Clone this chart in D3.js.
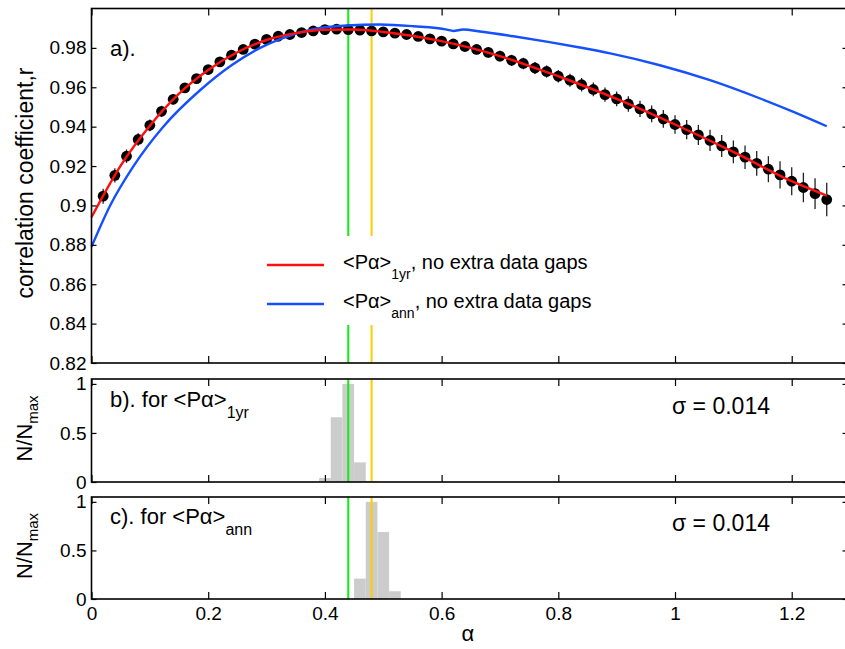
<!DOCTYPE html>
<html><head><meta charset="utf-8">
<script src="https://cdn.jsdelivr.net/npm/d3@7"></script>
<style>body{margin:0;background:#fff}svg{display:block}text{font-family:"Liberation Sans",Arial,sans-serif;fill:#000}</style>
</head><body><svg id="c" width="845" height="649"></svg>
<script>
// ---------- data ----------
const alphaPts = [0.02,0.04,0.06,0.08,0.10,0.12,0.14,0.16,0.18,0.20,0.22,0.24,0.26,0.28,0.30,0.32,0.34,0.36,0.38,0.40,0.42,0.44,0.46,0.48,0.50,0.52,0.54,0.56,0.58,0.60,0.62,0.64,0.66,0.68,0.70,0.72,0.74,0.76,0.78,0.80,0.82,0.84,0.86,0.88,0.90,0.92,0.94,0.96,0.98,1.00,1.02,1.04,1.06,1.08,1.10,1.12,1.14,1.16,1.18,1.20,1.22,1.24,1.26];
const rPts = [0.9047,0.9153,0.9250,0.9335,0.9407,0.9478,0.9539,0.9597,0.9644,0.9690,0.9729,0.9763,0.9792,0.9819,0.9843,0.9859,0.9868,0.9878,0.9886,0.9893,0.9895,0.9893,0.9890,0.9886,0.9881,0.9875,0.9868,0.9858,0.9846,0.9834,0.9820,0.9807,0.9792,0.9777,0.9758,0.9737,0.9721,0.9698,0.9680,0.9656,0.9636,0.9613,0.9589,0.9563,0.9541,0.9515,0.9490,0.9465,0.9439,0.9411,0.9385,0.9358,0.9330,0.9302,0.9272,0.9245,0.9214,0.9184,0.9155,0.9123,0.9091,0.9060,0.9030];
const rErr = [0.0038,0.0036,0.0034,0.0032,0.0030,0.0028,0.0027,0.0025,0.0024,0.0023,0.0022,0.0021,0.0020,0.0019,0.0019,0.0018,0.0018,0.0018,0.0018,0.0018,0.0018,0.0018,0.0019,0.0019,0.0020,0.0020,0.0021,0.0021,0.0022,0.0023,0.0023,0.0024,0.0025,0.0026,0.0027,0.0028,0.0029,0.0030,0.0031,0.0032,0.0033,0.0034,0.0035,0.0036,0.0037,0.0039,0.0041,0.0043,0.0045,0.0047,0.0049,0.0051,0.0054,0.0056,0.0058,0.0060,0.0063,0.0066,0.0069,0.0071,0.0075,0.0078,0.0085];

const fitAlpha = [0,0.05,0.10,0.15,0.20,0.25,0.30,0.35,0.40,0.45,0.50,0.60,0.70,0.80,0.90,1.00,1.10,1.20,1.26];
const fit1yr   = [0.8940,0.9202,0.9405,0.9568,0.9688,0.9778,0.9840,0.9875,0.9892,0.9893,0.9881,0.9834,0.9758,0.9656,0.9541,0.9411,0.9272,0.9123,0.9050];

const annAlpha = [0,0.032,0.072,0.123,0.186,0.24,0.289,0.323,0.38,0.437,0.494,0.552,0.609,0.62,0.637,0.666,0.723,0.78,0.837,0.889,0.974,1.06,1.146,1.203,1.26];
const annR     = [0.879,0.900,0.920,0.940,0.9585,0.9712,0.9800,0.9845,0.9895,0.9914,0.9919,0.9910,0.9893,0.9886,0.9893,0.9883,0.9859,0.9832,0.9802,0.9772,0.9712,0.9636,0.9543,0.9475,0.9402];

const alpha1yrBest = 0.44, alphaAnnBest = 0.48;
const binWidth = 0.02;
const hist1yrCenters = [0.40,0.42,0.44,0.46,0.48];
const hist1yrValues  = [0.04,0.66,1.00,0.20,0.01];
const histAnnCenters = [0.46,0.48,0.50,0.52];
const histAnnValues  = [0.21,1.00,0.69,0.08];

const xTicks = [0,0.2,0.4,0.6,0.8,1,1.2];
const rTicks = [0.82,0.84,0.86,0.88,0.90,0.92,0.94,0.96,0.98];
const nTicks = [0,0.5,1];
const sigmaText = "σ = 0.014";

// ---------- drawing ----------
const svg = d3.select("#c");
const x = d3.scaleLinear().domain([0, 1.2956]).range([91.5, 847.5]);
const yA = d3.scaleLinear().domain([0.82, 1.0]).range([363, 8.5]);
const yB = d3.scaleLinear().domain([0, 1.05]).range([482, 379]);
const yC = d3.scaleLinear().domain([0, 1.05]).range([599, 497]);
const fmt = d => String(+d.toFixed(2));
const GREEN = "#11ee11", ORANGE = "#ffcc00", RED = "#ff1010", BLUE = "#1550ff";

function frame(y, yt, showX) {
  const [y0, y1] = y.range();
  const g = svg.append("g");
  const bot = g.append("g").attr("transform", `translate(0,${y0})`)
    .call(d3.axisBottom(x).tickValues(xTicks).tickSize(-7).tickPadding(8).tickFormat(showX ? fmt : ""));
  const top = g.append("g").attr("transform", `translate(0,${y1})`)
    .call(d3.axisTop(x).tickValues(xTicks).tickSize(-7).tickFormat(""));
  const lef = g.append("g").attr("transform", `translate(${x.range()[0]},0)`)
    .call(d3.axisLeft(y).tickValues(yt).tickSize(-5).tickPadding(5).tickFormat(fmt));
  const rig = g.append("g").attr("transform", `translate(${x.range()[1]},0)`)
    .call(d3.axisRight(y).tickValues(yt).tickSize(-5).tickFormat(""));
  [bot, top, lef, rig].forEach(a => {
    a.select(".domain").remove();
    a.selectAll(".tick line").attr("stroke", "#000").attr("stroke-width", 1.2);
    a.selectAll("text").style("font-size", "19px").attr("fill", "#000");
  });
  g.append("rect").attr("x", x.range()[0]).attr("y", y1)
    .attr("width", x.range()[1] - x.range()[0]).attr("height", y0 - y1)
    .attr("fill", "none").attr("stroke", "#000").attr("stroke-width", 1.6);
  return g;
}

function vlines(g, y) {
  const [y0, y1] = y.range();
  [[alpha1yrBest, GREEN], [alphaAnnBest, ORANGE]].forEach(([a, c]) => {
    g.append("line").attr("x1", x(a)).attr("x2", x(a)).attr("y1", y0).attr("y2", y1)
      .attr("stroke", c).attr("stroke-width", 2);
  });
}

// Panel a
const gA = svg.append("g");
vlines(gA, yA);
gA.selectAll(".err").data(alphaPts).enter().append("line")
  .attr("x1", d => x(d)).attr("x2", d => x(d))
  .attr("y1", (d, i) => yA(rPts[i] - rErr[i])).attr("y2", (d, i) => yA(rPts[i] + rErr[i]))
  .attr("stroke", "#222").attr("stroke-width", 1.3);
gA.selectAll(".dot").data(alphaPts).enter().append("circle")
  .attr("cx", d => x(d)).attr("cy", (d, i) => yA(rPts[i])).attr("r", 5.4).attr("fill", "#000");
const lineGen = d3.line().x(d => x(d[0])).y(d => yA(d[1])).curve(d3.curveMonotoneX);
gA.append("path").datum(annAlpha.map((a, i) => [a, annR[i]])).attr("d", lineGen)
  .attr("fill", "none").attr("stroke", BLUE).attr("stroke-width", 2.4);
gA.append("path").datum(fitAlpha.map((a, i) => [a, fit1yr[i]])).attr("d", lineGen)
  .attr("fill", "none").attr("stroke", RED).attr("stroke-width", 2.4);

// legend
gA.append("rect").attr("x", 256).attr("y", 236).attr("width", 345).attr("height", 89).attr("fill", "#fff");
const legItems = [[RED, "1yr", 265], [BLUE, "ann", 304]];
legItems.forEach(([c, sub, ly]) => {
  gA.append("line").attr("x1", 267).attr("x2", 324).attr("y1", ly).attr("y2", ly)
    .attr("stroke", c).attr("stroke-width", 2.4);
  const t = gA.append("text").attr("x", 343).attr("y", ly + 4).style("font-size", "20px");
  t.append("tspan").text("<Pα>");
  t.append("tspan").attr("dy", 10).style("font-size", "14px").text(sub);
  t.append("tspan").attr("dy", -10).text(", no extra data gaps");
});
frame(yA, rTicks, false);
svg.append("text").attr("x", 110).attr("y", 56).style("font-size", "22px").text("a).");

// Panel b & c
function histPanel(y, centers, values, label, sub, labelY) {
  const g = svg.append("g");
  g.selectAll("rect.bar").data(centers).enter().append("rect")
    .attr("x", d => x(d - binWidth / 2)).attr("width", d => x(d + binWidth / 2) - x(d - binWidth / 2))
    .attr("y", (d, i) => y(values[i])).attr("height", (d, i) => y(0) - y(values[i]))
    .attr("fill", "#cccccc");
  vlines(g, y);
  frame(y, nTicks, y === yC);
  const t = svg.append("text").attr("x", 110).attr("y", labelY).style("font-size", "22px");
  t.append("tspan").text(label);
  t.append("tspan").attr("dy", 11).style("font-size", "16px").text(sub);
  svg.append("text").attr("x", 672).attr("y", labelY + 7).style("font-size", "23px").text(sigmaText);
  const yl = svg.append("text").attr("transform", `translate(32,${(y.range()[0] + y.range()[1]) / 2 - 2}) rotate(-90)`)
    .attr("text-anchor", "middle").style("font-size", "22px");
  yl.append("tspan").text("N/N");
  yl.append("tspan").attr("dy", 6).style("font-size", "15px").text("max");
}
histPanel(yB, hist1yrCenters, hist1yrValues, "b). for <Pα>", "1yr", 407);
histPanel(yC, histAnnCenters, histAnnValues, "c). for <Pα>", "ann", 524);

// axis labels
svg.append("text").attr("transform", "translate(33,183) rotate(-90)")
  .attr("text-anchor", "middle").style("font-size", "23px").text("correlation coefficient,r");
svg.append("text").attr("x", x(0.645)).attr("y", 641).attr("text-anchor", "middle")
  .style("font-size", "22px").text("α");
</script></body></html>
